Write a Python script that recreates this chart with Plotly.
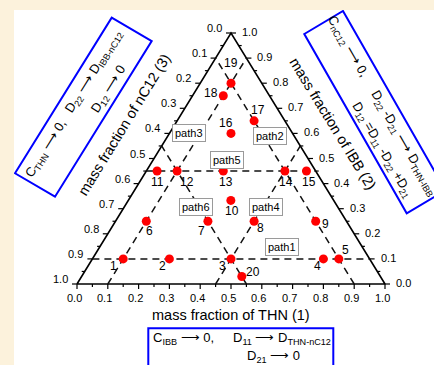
import numpy as np
import plotly.graph_objects as go

# ---------------- data ----------------
point_ids = [str(i) for i in range(1, 21)]
thn  = [0.10, 0.25, 0.45, 0.75, 0.80, 0.10, 0.30, 0.45, 0.65, 0.333, 0.035, 0.10, 0.25, 0.45, 0.52, 0.20, 0.25, 0.10, 0.10, 0.52]
ibb  = [0.10, 0.10, 0.10, 0.10, 0.10, 0.25, 0.25, 0.25, 0.25, 0.333, 0.45, 0.45, 0.45, 0.45, 0.45, 0.60, 0.65, 0.75, 0.80, 0.03]
nc12 = [0.80, 0.65, 0.45, 0.15, 0.10, 0.65, 0.45, 0.30, 0.10, 0.334, 0.515, 0.45, 0.30, 0.10, 0.03, 0.20, 0.10, 0.15, 0.10, 0.45]

guide_thn  = [0.10, 0.45]
guide_ibb  = [0.10, 0.45]
guide_nc12 = [0.10, 0.45]

tick_values = [0.0, 0.1, 0.2, 0.3, 0.4, 0.5, 0.6, 0.7, 0.8, 0.9, 1.0]
tick_labels = ["0.0", "0.1", "0.2", "0.3", "0.4", "0.5", "0.6", "0.7", "0.8", "0.9", "1.0"]
minor_tick_values = [0.05, 0.15, 0.25, 0.35, 0.45, 0.55, 0.65, 0.75, 0.85, 0.95]

path_names = ["path1", "path2", "path3", "path4", "path5", "path6"]

title_thn = "mass fraction of THN (1)"
title_ibb = "mass fraction of IBB (2)"
title_nc12 = "mass fraction of nC12 (3)"

# ---------------- geometry (pixels) ----------------
W, H = 434, 365
LPX, RPX, BPX, TPX = 77.0, 385.0, 284.0, 33.0
SX, SY = RPX - LPX, BPX - TPX
FONT = "Liberation Sans, Arial, sans-serif"
CREAM = "#FCF2DC"


def tern(t, i, n):
    t, i, n = np.asarray(t, float), np.asarray(i, float), np.asarray(n, float)
    s = t + i + n
    return (t + i / 2) / s, i / s


def P(px, py):
    return (px - LPX) / SX, (BPX - py) / SY


fig = go.Figure()

# triangle frame
fx, fy = tern([0, 1, 0, 0], [0, 0, 1, 0], [1, 0, 0, 1])
fig.add_trace(go.Scatter(x=fx, y=fy, mode="lines", line=dict(color="black", width=1.6),
                         hoverinfo="skip", showlegend=False))

# ticks
tx, ty = [], []
for vals, ln in ((tick_values, 5), (minor_tick_values, 3)):
    for v in vals:
        x0, y0 = tern(v, 0, 1 - v)
        tx += [float(x0), float(x0), None]; ty += [float(y0), float(y0) - ln / SY, None]
        x0, y0 = tern(0, 1 - v, v)
        tx += [float(x0), float(x0) - ln / SX, None]; ty += [float(y0), float(y0), None]
        x0, y0 = tern(1 - v, v, 0)
        tx += [float(x0), float(x0) + ln / SX, None]; ty += [float(y0), float(y0), None]
fig.add_trace(go.Scatter(x=tx, y=ty, mode="lines", line=dict(color="black", width=1.2),
                         hoverinfo="skip", showlegend=False))

# dashed guide lines
gx, gy = [], []
for c in guide_ibb:
    x, y = tern([0, 1 - c], [c, c], [1 - c, 0]); gx += list(x) + [None]; gy += list(y) + [None]
for c in guide_thn:
    x, y = tern([c, c], [0, 1 - c], [1 - c, 0]); gx += list(x) + [None]; gy += list(y) + [None]
for c in guide_nc12:
    x, y = tern([1 - c, 0], [0, 1 - c], [c, c]); gx += list(x) + [None]; gy += list(y) + [None]
fig.add_trace(go.Scatter(x=gx, y=gy, mode="lines",
                         line=dict(color="#111111", width=1.5, dash="7px,5px"),
                         hoverinfo="skip", showlegend=False))

# points
px_, py_ = tern(thn, ibb, nc12)
fig.add_trace(go.Scatter(x=px_, y=py_, mode="markers", marker=dict(color="#FF0000", size=9),
                         text=point_ids, hoverinfo="text", showlegend=False))

ann = []
label_offsets = [(-10, 7), (-7, 7), (-9, 7), (-6, 7), (7, -9), (3, 10), (-6, 10), (6, 7), (10, 3),
                 (1, 11), (0, 11), (10, 11), (3, 11), (1, 11), (3, 11), (-5, -10), (4, -11),
                 (-12, -3), (0, -20), (11, -4)]
for lab, x, y, (dx, dy) in zip(point_ids, px_, py_, label_offsets):
    ann.append(dict(x=float(x), y=float(y), text=lab, showarrow=False, xshift=dx, yshift=-dy,
                    font=dict(size=12, color="black", family=FONT)))

for v, lab in zip(tick_values, tick_labels):
    x, y = tern(v, 0, 1 - v)
    ann.append(dict(x=float(x), y=float(y), text=lab, showarrow=False, xanchor="center", yanchor="middle",
                    xshift=-3, yshift=-14, font=dict(size=11, color="black", family=FONT)))
    x, y = tern(0, 1 - v, v)
    ann.append(dict(x=float(x), y=float(y), text=lab, showarrow=False, xanchor="right", yanchor="middle",
                    xshift=-7, yshift=5, font=dict(size=11, color="black", family=FONT)))
    x, y = tern(1 - v, v, 0)
    ann.append(dict(x=float(x), y=float(y), text=lab, showarrow=False, xanchor="left", yanchor="middle",
                    xshift=9, yshift=1, font=dict(size=11, color="black", family=FONT)))

for txt, (cx, cy), ang in ((title_thn, (231, 315), 0), (title_nc12, (124, 125), -58.5),
                          (title_ibb, (333, 124), 58.5)):
    x, y = P(cx, cy)
    ann.append(dict(x=x, y=y, text=txt, showarrow=False, textangle=ang, xanchor="center", yanchor="middle",
                    font=dict(size=14.5, color="black", family=FONT)))

path_centers = [(281.7, 247), (270, 136), (189.3, 132.5), (265.7, 207), (226.7, 159.5), (196, 207)]
for name, (cx, cy) in zip(path_names, path_centers):
    x, y = P(cx, cy)
    ann.append(dict(x=x, y=y, text=name, showarrow=False, xanchor="center", yanchor="middle",
                    bgcolor="white", bordercolor="#9a9a9a", borderwidth=1, borderpad=2,
                    font=dict(size=11, color="black", family=FONT)))

shapes = []


def box_path(corners):
    pts = [P(*c) for c in corners]
    return "M " + " L ".join(f"{x:.5f},{y:.5f}" for x, y in pts) + " Z"


A = np.array([15.0, 173.3]); B = np.array([111.7, 17.7]); D = np.array([55.0, 196.7])
u = (B - A) / np.linalg.norm(B - A); v = (D - A) / np.linalg.norm(D - A)
shapes.append(dict(type="path", xref="x", yref="y", path=box_path([A, B, B + (D - A), D]),
                   line=dict(color="#0000FF", width=2)))
for txt, s, t in (("C<sub>THN</sub> ⟶ 0,", 37, 14),
                  ("D<sub>22</sub> ⟶ D<sub>IBB-nC12</sub>", 128, 13),
                  ("D<sub>12</sub> ⟶ 0", 120, 35)):
    c = A + s * u + t * v
    x, y = P(*c)
    ann.append(dict(x=x, y=y, text=txt, showarrow=False, textangle=-58, xanchor="center", yanchor="middle",
                    font=dict(size=13, color="black", family=FONT)))

A2 = np.array([304.3, 34.0]); B2 = np.array([343.0, 11.0]); C2 = np.array([406.7, 213.3])
u2 = (C2 - A2) / np.linalg.norm(C2 - A2); v2 = (B2 - A2) / np.linalg.norm(B2 - A2)
shapes.append(dict(type="path", xref="x", yref="y", path=box_path([A2, B2, C2 + (B2 - A2), C2]),
                   line=dict(color="#0000FF", width=2)))
for txt, s, t in (("C<sub>nC12</sub> ⟶ 0,", 33, 31),
                  ("D<sub>22</sub> -D<sub>21</sub> ⟶ D<sub>THN-IBB</sub>", 145, 32),
                  ("D<sub>12</sub> =D<sub>11</sub> -D<sub>22</sub> +D<sub>21</sub>", 140, 10)):
    c = A2 + s * u2 + t * v2
    x, y = P(*c)
    ann.append(dict(x=x, y=y, text=txt, showarrow=False, textangle=60, xanchor="center", yanchor="middle",
                    font=dict(size=13, color="black", family=FONT)))

x0, y0 = P(148.3, 328.3); x1, y1 = P(333.3, 372)
shapes.append(dict(type="rect", xref="x", yref="y", x0=x0, y0=y0, x1=x1, y1=y1,
                   line=dict(color="#0000FF", width=2)))
for txt, (cx, cy) in (("C<sub>IBB</sub> ⟶ 0,", (183.5, 338)),
                      ("D<sub>11</sub> ⟶ D<sub>THN-nC12</sub>", (282, 338)),
                      ("D<sub>21</sub> ⟶ 0", (273, 356))):
    x, y = P(cx, cy)
    ann.append(dict(x=x, y=y, text=txt, showarrow=False, xanchor="center", yanchor="middle",
                    font=dict(size=13, color="black", family=FONT)))

xr = [P(14, 0)[0], P(W, 0)[0]]
yr = [P(0, H)[1], P(0, 10)[1]]
fig.update_layout(
    width=W, height=H, margin=dict(l=14, r=0, t=10, b=0, pad=0),
    paper_bgcolor=CREAM, plot_bgcolor="white",
    xaxis=dict(range=xr, visible=False, fixedrange=True),
    yaxis=dict(range=yr, visible=False, fixedrange=True),
    annotations=ann, shapes=shapes, showlegend=False,
)
fig.write_html("out.html", config={"displayModeBar": False},
               post_script="document.body.style.margin='0px';document.body.style.background='%s';" % CREAM)
